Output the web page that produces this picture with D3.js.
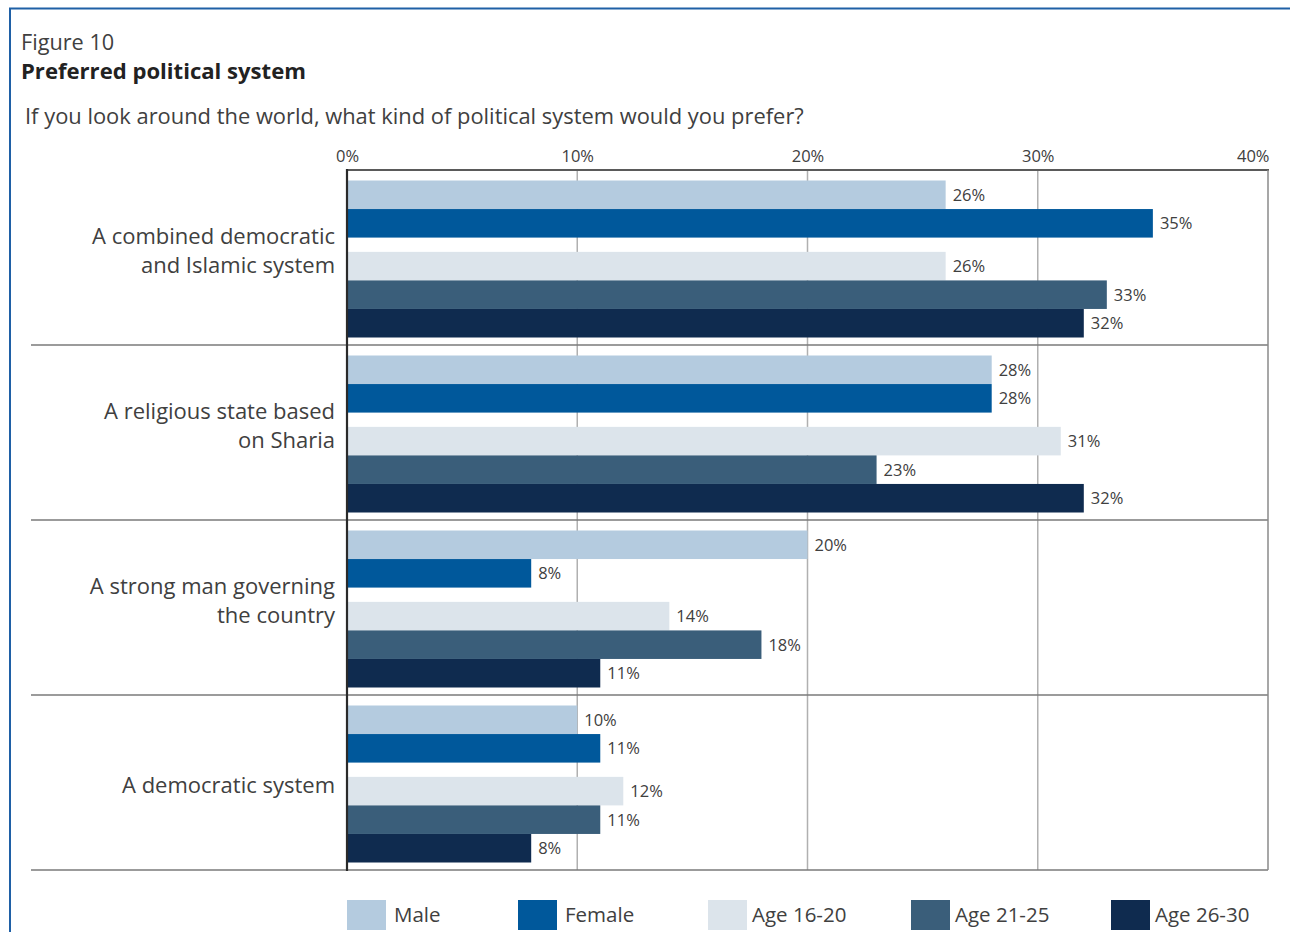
<!DOCTYPE html>
<html>
<head>
<meta charset="utf-8">
<script src="https://cdn.jsdelivr.net/npm/d3@7"></script>
<style>
  html, body { margin: 0; padding: 0; background: #fff; }
  svg { display: block; font-family: "Open Sans", "Noto Sans", sans-serif; }
</style>
</head>
<body>
<svg id="chart" width="1290" height="932"></svg>
<script>
// Answer options (two-line labels split with "|")
const categories = [
  "A combined democratic|and Islamic system",
  "A religious state based|on Sharia",
  "A strong man governing|the country",
  "A democratic system"
];
const seriesNames = ["Male", "Female", "Age 16-20", "Age 21-25", "Age 26-30"];
const seriesColors = ["#b4cbdf", "#00589b", "#dce4eb", "#3a5e7a", "#0f2b4f"];

// Percent values per series, in category order
const male     = [26, 28, 20, 10];
const female   = [35, 28, 8, 11];
const age16_20 = [26, 31, 14, 12];
const age21_25 = [33, 23, 18, 11];
const age26_30 = [32, 32, 11, 8];
const seriesValues = [male, female, age16_20, age21_25, age26_30];

const tickValues = [0, 10, 20, 30, 40];

const svg = d3.select("#chart");
const textColor = "#404040";

// Frame: blue rule across the top and down the left side
svg.append("line").attr("x1", 9).attr("x2", 1290).attr("y1", 8.5).attr("y2", 8.5)
  .attr("stroke", "#1f60a6").attr("stroke-width", 2);
svg.append("line").attr("x1", 10).attr("x2", 10).attr("y1", 8).attr("y2", 932)
  .attr("stroke", "#1f60a6").attr("stroke-width", 2);

// Titles
svg.append("text").attr("x", 21).attr("y", 50).attr("font-size", 21.7)
  .attr("fill", textColor).text("Figure 10");
svg.append("text").attr("x", 21).attr("y", 79).attr("font-size", 22.1).attr("font-weight", 700)
  .attr("fill", "#222").text("Preferred political system");
svg.append("text").attr("x", 25).attr("y", 124).attr("font-size", 21.9)
  .attr("fill", textColor).text("If you look around the world, what kind of political system would you prefer?");

// Scales
const plotLeft = 347, plotRight = 1268, plotTop = 170, plotBottom = 870;
const x = d3.scaleLinear().domain([0, 40]).range([plotLeft, plotRight]);
const y = d3.scaleBand().domain(categories).range([plotTop, plotBottom]).padding(0);
// slot positions inside a group: two gender bars, a half-slot gap, three age bars
const slotIndex = [0, 1, 2.5, 3.5, 4.5];
const inner = d3.scaleLinear().domain([0, 5.5]).range([10.5, 167.5]);
const barH = inner(1) - inner(0);

// Vertical gridlines
svg.append("g").selectAll("line").data(tickValues.filter(t => t > 0 && t < 40)).join("line")
  .attr("x1", d => x(d)).attr("x2", d => x(d)).attr("y1", plotTop).attr("y2", plotBottom)
  .attr("stroke", "#b0b0b0").attr("stroke-width", 1.5);

// Bars
const groups = svg.append("g").selectAll("g").data(categories).join("g")
  .attr("transform", d => `translate(0,${y(d)})`);

groups.each(function(cat, ci) {
  const g = d3.select(this);
  seriesValues.forEach((vals, si) => {
    const v = vals[ci];
    const y0 = inner(slotIndex[si]);
    g.append("rect")
      .attr("x", x(0)).attr("y", y0)
      .attr("width", x(v) - x(0)).attr("height", barH)
      .attr("fill", seriesColors[si]);
    g.append("text")
      .attr("x", x(v) + 7).attr("y", y0 + barH / 2)
      .attr("dy", "0.36em").attr("font-size", 16.5)
      .attr("fill", textColor).text(v + "%");
  });
});

// Category separators
svg.append("g").selectAll("line").data(categories.slice(1)).join("line")
  .attr("x1", 31).attr("x2", plotRight).attr("y1", d => y(d)).attr("y2", d => y(d))
  .attr("stroke", "#7a7a7a").attr("stroke-width", 1.5);
svg.append("line").attr("x1", 31).attr("x2", plotRight).attr("y1", plotBottom).attr("y2", plotBottom)
  .attr("stroke", "#7a7a7a").attr("stroke-width", 1.5);

// Plot frame: top and right borders, dark left axis
svg.append("line").attr("x1", plotLeft).attr("x2", plotRight + 1).attr("y1", plotTop).attr("y2", plotTop)
  .attr("stroke", "#5a5a5a").attr("stroke-width", 2);
svg.append("line").attr("x1", plotRight).attr("x2", plotRight).attr("y1", plotTop).attr("y2", plotBottom)
  .attr("stroke", "#8a8a8a").attr("stroke-width", 1.5);
svg.append("line").attr("x1", plotLeft).attr("x2", plotLeft).attr("y1", plotTop - 1).attr("y2", plotBottom + 1)
  .attr("stroke", "#2a2a2a").attr("stroke-width", 2.2);

// Top axis labels
const axis = d3.axisTop(x).tickValues(tickValues).tickFormat(d => d + "%").tickSize(0).tickPadding(0);
const axisG = svg.append("g").attr("transform", `translate(0,${plotTop - 8})`).call(axis);
axisG.select(".domain").remove();
axisG.selectAll("text").attr("font-size", 16.5).attr("fill", textColor)
  .attr("font-family", "\"Open Sans\", sans-serif")
  .filter(d => d === 40).attr("text-anchor", "end").attr("dx", 1);

// Category labels
categories.forEach(cat => {
  const lines = cat.split("|");
  const cy = y(cat) + y.bandwidth() / 2;
  const t = svg.append("text").attr("text-anchor", "end").attr("font-size", 22).attr("fill", textColor);
  lines.forEach((ln, i) => {
    const off = lines.length === 1 ? 10 : (i === 0 ? -14 : 15);
    t.append("tspan").attr("x", 335).attr("y", cy + off).text(ln);
  });
});

// Legend
const legendX = [347, 518, 708, 911, 1111];
const legend = svg.append("g").selectAll("g").data(seriesNames).join("g")
  .attr("transform", (d, i) => `translate(${legendX[i]},900)`);
legend.append("rect").attr("width", 39).attr("height", 30)
  .attr("fill", (d, i) => seriesColors[i]);
legend.append("text").attr("x", (d, i) => i < 2 ? 47 : 44).attr("y", 22)
  .attr("font-size", 20.5).attr("fill", textColor).text(d => d);
</script>
</body>
</html>
